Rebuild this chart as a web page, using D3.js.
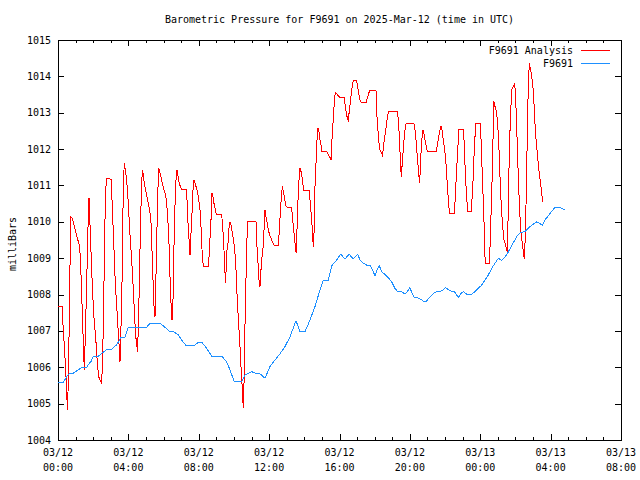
<!DOCTYPE html>
<html><head><meta charset="utf-8">
<script src="https://cdn.jsdelivr.net/npm/d3@7"></script>
<style>
body{margin:0;background:#fff;}
svg{display:block;}
text{font-family:"DejaVu Sans Mono","Liberation Mono",monospace;font-size:10px;fill:#000;}
</style></head><body>
<svg id="chart" width="640" height="480"></svg>
<script>
const title = "Barometric Pressure for F9691 on 2025-Mar-12 (time in UTC)";
const yAxisLabel = "milliBars";
const seriesNames = ["F9691 Analysis", "F9691"];
const seriesColors = ["#ff0000", "#1e90ff"];
const startTime = Date.UTC(2025, 2, 12, 0, 0);
const xTickHours = [0, 4, 8, 12, 16, 20, 24, 28, 32];
const yTickValues = [1004, 1005, 1006, 1007, 1008, 1009, 1010, 1011, 1012, 1013, 1014, 1015];

// F9691 Analysis (hours after 2025-03-12 00:00 UTC)
const redHours = [0,0.246,0.26,0.303,0.36,0.398,0.455,0.474,0.49,0.53,0.587,0.625,0.663,0.701,0.739,0.815,0.871,0.928,1.004,1.08,1.156,1.231,1.288,1.345,1.402,1.459,1.497,1.535,1.573,1.629,1.667,1.724,1.762,1.8,1.838,1.895,1.951,2.008,2.065,2.141,2.198,2.255,2.311,2.387,2.482,2.539,2.596,2.633,2.69,2.747,3.012,3.05,3.107,3.164,3.221,3.278,3.334,3.391,3.467,3.524,3.562,3.619,3.675,3.713,3.77,3.827,3.884,3.96,4.035,4.111,4.187,4.244,4.301,4.358,4.414,4.471,4.509,4.566,4.623,4.68,4.737,4.793,4.85,4.907,4.983,5.059,5.134,5.21,5.286,5.362,5.419,5.475,5.513,5.551,5.608,5.665,5.722,5.779,5.854,5.93,6.006,6.082,6.157,6.233,6.309,6.366,6.423,6.48,6.536,6.574,6.631,6.688,6.764,6.802,6.877,6.953,7.029,7.313,7.351,7.408,7.465,7.503,7.559,7.616,7.673,7.73,7.787,7.88,7.976,8.071,8.128,8.204,8.261,8.545,8.583,8.64,8.696,8.753,8.81,8.848,8.924,9.0,9.303,9.34,9.397,9.454,9.492,9.53,9.568,9.606,9.663,9.72,9.776,9.833,9.909,9.985,10.06,10.117,10.174,10.231,10.288,10.345,10.402,10.458,10.496,10.534,10.572,10.61,10.667,10.724,10.781,11.254,11.311,11.368,11.425,11.482,11.538,11.595,11.652,11.709,11.766,11.823,11.879,11.955,12.031,12.107,12.183,12.278,12.524,12.58,12.637,12.694,12.751,12.808,12.865,12.94,13.016,13.281,13.338,13.395,13.452,13.509,13.547,13.585,13.642,13.698,13.755,13.85,13.907,13.982,14.285,14.323,14.38,14.437,14.475,14.513,14.551,14.608,14.664,14.721,14.778,14.835,14.892,14.949,15.005,15.271,15.365,15.46,15.517,15.555,15.593,15.65,15.707,15.763,15.839,15.934,16.028,16.275,16.332,16.389,16.445,16.502,16.559,16.616,16.673,16.73,16.787,16.976,17.033,17.09,17.165,17.241,17.506,17.582,17.658,17.734,18.075,18.113,18.17,18.226,18.283,18.359,18.435,18.491,18.548,18.605,18.662,18.719,18.776,19.287,19.344,19.401,19.439,19.477,19.515,19.553,19.609,19.666,19.723,19.78,20.235,20.292,20.348,20.405,20.462,20.519,20.557,20.632,20.689,20.745,20.802,20.859,20.916,20.992,21.484,21.56,21.636,21.712,21.769,21.825,21.901,21.977,22.034,22.091,22.148,22.204,22.261,22.545,22.583,22.64,22.697,22.754,22.792,23.038,23.076,23.114,23.171,23.227,23.284,23.493,23.53,23.587,23.644,23.701,23.758,23.985,24.042,24.099,24.156,24.213,24.25,24.288,24.515,24.553,24.61,24.667,24.724,24.781,24.838,24.895,24.951,25.008,25.065,25.122,25.179,25.236,25.293,25.349,25.463,25.539,25.596,25.652,25.728,25.785,25.88,25.956,26.012,26.069,26.126,26.183,26.24,26.297,26.353,26.41,26.448,26.505,26.562,26.619,26.676,26.733,26.789,26.846,26.903,26.96,27.017,27.074,27.13,27.187,27.244,27.301,27.358,27.415,27.471,27.528,27.566];
const redValues = [1007.67,1007.67,1007.35,1007.02,1006.57,1006.25,1005.74,1005.12,1005.45,1004.83,1005.56,1006.8,1008.13,1009.45,1010.14,1010.1,1010.0,1009.87,1009.73,1009.59,1009.45,1009.32,1008.81,1008.03,1007.21,1006.38,1005.93,1006.57,1007.35,1008.13,1009.23,1010.14,1010.65,1010.28,1009.59,1008.95,1008.22,1007.67,1007.21,1006.84,1006.38,1006.02,1005.74,1005.65,1005.56,1006.29,1007.67,1009.04,1010.51,1011.2,1011.17,1010.83,1010.14,1009.5,1008.72,1008.13,1007.71,1007.25,1006.66,1006.15,1006.84,1007.67,1009.59,1011.06,1011.61,1011.42,1011.24,1010.79,1010.14,1009.5,1008.95,1008.49,1007.94,1007.39,1006.84,1006.7,1006.43,1007.02,1008.31,1009.68,1010.79,1011.42,1011.29,1011.06,1010.88,1010.69,1010.51,1010.33,1009.96,1008.95,1008.13,1007.48,1007.39,1008.13,1009.41,1010.69,1011.47,1011.38,1011.24,1011.06,1010.92,1010.79,1010.6,1010.19,1009.41,1008.49,1007.76,1007.3,1007.85,1008.95,1010.14,1011.06,1011.42,1011.33,1011.1,1010.97,1010.88,1010.88,1010.33,1009.78,1009.41,1009.09,1009.68,1010.24,1010.88,1011.15,1011.06,1010.92,1010.69,1010.33,1009.87,1009.04,1008.77,1008.77,1009.04,1009.55,1010.05,1010.79,1010.69,1010.55,1010.37,1010.19,1010.19,1010.0,1009.59,1009.04,1008.58,1008.33,1008.86,1009.23,1009.41,1009.82,1010.0,1009.91,1009.68,1009.5,1009.13,1008.68,1008.03,1007.48,1007.02,1006.57,1006.02,1005.56,1005.15,1004.87,1005.56,1006.75,1008.03,1009.32,1010.0,1010.0,1009.32,1008.86,1008.4,1008.22,1008.68,1009.04,1009.27,1009.78,1010.33,1010.14,1010.0,1009.78,1009.64,1009.55,1009.45,1009.36,1009.36,1009.78,1010.24,1010.69,1010.97,1010.83,1010.69,1010.46,1010.4,1010.4,1010.05,1009.78,1009.5,1009.23,1009.13,1009.78,1010.6,1011.15,1011.47,1011.33,1011.06,1010.85,1010.85,1010.6,1010.28,1009.91,1009.59,1009.3,1009.68,1010.97,1011.61,1012.25,1012.57,1012.48,1012.25,1012.11,1011.93,1011.93,1011.84,1011.77,1011.7,1012.16,1012.39,1012.85,1013.31,1013.56,1013.52,1013.46,1013.42,1013.42,1013.17,1012.99,1012.85,1012.76,1013.08,1013.26,1013.54,1013.76,1013.88,1013.88,1013.72,1013.54,1013.35,1013.28,1013.28,1013.4,1013.54,1013.61,1013.61,1013.03,1012.62,1012.25,1011.99,1011.93,1011.84,1011.98,1012.3,1012.43,1012.66,1012.85,1013.03,1013.03,1012.8,1012.34,1011.93,1011.52,1011.24,1011.52,1011.89,1012.25,1012.53,1012.69,1012.7,1012.53,1012.25,1011.89,1011.56,1011.24,1011.06,1011.89,1012.3,1012.53,1012.43,1012.25,1012.11,1011.93,1011.93,1012.11,1012.34,1012.53,1012.62,1012.53,1012.25,1011.98,1011.75,1011.29,1010.88,1010.46,1010.24,1010.24,1010.79,1011.24,1011.79,1012.25,1012.54,1012.54,1012.25,1011.79,1011.15,1010.69,1010.28,1010.28,1010.6,1011.1,1011.79,1012.34,1012.71,1012.71,1012.3,1011.52,1010.79,1010.0,1009.23,1008.86,1008.86,1009.27,1010.14,1011.06,1012.25,1013.31,1013.17,1013.08,1012.9,1012.53,1011.98,1011.24,1010.6,1010.14,1009.78,1009.5,1009.32,1009.18,1010.42,1011.98,1012.99,1013.63,1013.72,1013.81,1013.44,1012.62,1011.79,1010.97,1010.33,1009.78,1009.5,1009.41,1009.13,1008.99,1009.59,1010.88,1012.43,1013.81,1014.36,1014.22,1014.08,1013.86,1013.58,1013.08,1012.53,1012.16,1011.89,1011.56,1011.33,1011.1,1010.88,1010.65,1010.55];

// F9691 observations
const blueHours = [0,0.303,0.587,0.871,1.156,1.345,1.629,1.724,1.875,2.008,2.255,2.482,2.766,3.05,3.334,3.581,3.808,3.903,3.998,5.04,5.229,5.798,6.082,6.366,6.555,6.839,7.029,7.256,7.787,7.976,8.166,8.45,8.734,9.303,9.587,9.776,10.023,10.44,10.629,11.008,11.292,11.481,11.766,12.05,12.334,12.618,12.902,13.187,13.528,13.755,14.04,14.323,14.608,14.892,15.081,15.365,15.555,15.839,16.066,16.313,16.54,16.786,17.033,17.165,17.355,17.544,17.734,17.866,18.018,18.17,18.264,18.397,18.586,18.776,18.965,19.154,19.306,19.533,19.723,19.874,20.007,20.14,20.253,20.519,20.765,20.955,21.144,21.333,21.523,21.807,22.034,22.28,22.527,22.754,22.905,23.038,23.228,23.512,23.701,23.891,24.08,24.27,24.46,24.649,24.8,25.027,25.217,25.5,26.069,26.259,26.543,26.827,27.206,27.528,27.68,27.964,28.248,28.532,28.779];
const blueValues = [1005.59,1005.59,1005.81,1005.84,1005.93,1006.0,1006.0,1006.07,1006.16,1006.29,1006.29,1006.38,1006.49,1006.49,1006.62,1006.82,1006.82,1006.97,1007.1,1007.1,1007.21,1007.21,1007.1,1006.98,1006.98,1006.89,1006.75,1006.61,1006.61,1006.69,1006.69,1006.52,1006.31,1006.31,1006.15,1005.93,1005.6,1005.6,1005.79,1005.88,1005.82,1005.82,1005.7,1006.02,1006.2,1006.37,1006.57,1006.84,1007.28,1006.98,1006.98,1007.3,1007.67,1008.13,1008.4,1008.4,1008.79,1008.95,1009.11,1008.98,1009.11,1008.98,1009.11,1008.95,1008.86,1008.81,1008.8,1008.68,1008.52,1008.72,1008.79,1008.63,1008.55,1008.46,1008.35,1008.17,1008.08,1008.08,1008.01,1008.1,1008.19,1008.01,1007.92,1007.9,1007.82,1007.82,1007.94,1008.03,1008.08,1008.1,1008.19,1008.1,1008.08,1007.92,1008.03,1008.08,1008.01,1008.01,1008.08,1008.17,1008.26,1008.4,1008.54,1008.72,1008.83,1009.0,1008.93,1009.09,1009.59,1009.7,1009.73,1009.87,1010.0,1009.91,1010.05,1010.23,1010.4,1010.4,1010.33];

const W = 640, H = 480;
const m = {left: 58, right: 19, top: 40, bottom: 40};
const hr = h => new Date(startTime + h * 3600000);

const svg = d3.select("#chart");
const x = d3.scaleUtc().domain([hr(0), hr(32)]).range([m.left, W - m.right]);
const y = d3.scaleLinear().domain([1004, 1015]).range([H - m.bottom, m.top]);

const majorX = xTickHours.map(hr);
const minorX = x.ticks(d3.utcHour.every(1));

const g = svg.append("g").attr("shape-rendering", "crispEdges");

// minor ticks (bottom + top)
g.append("g").attr("transform", `translate(0,${y(1004)})`)
  .call(d3.axisBottom(x).tickValues(minorX).tickSize(-3).tickFormat(""))
  .call(a => a.select(".domain").remove());
g.append("g").attr("transform", `translate(0,${y(1015)})`)
  .call(d3.axisTop(x).tickValues(minorX).tickSize(-3).tickFormat(""))
  .call(a => a.select(".domain").remove());
// major ticks
g.append("g").attr("transform", `translate(0,${y(1004)})`)
  .call(d3.axisBottom(x).tickValues(majorX).tickSize(-6).tickFormat(""))
  .call(a => a.select(".domain").remove());
g.append("g").attr("transform", `translate(0,${y(1015)})`)
  .call(d3.axisTop(x).tickValues(majorX).tickSize(-6).tickFormat(""))
  .call(a => a.select(".domain").remove());
g.append("g").attr("transform", `translate(${x.range()[0]},0)`)
  .call(d3.axisLeft(y).tickValues(yTickValues).tickSize(-6).tickFormat(""))
  .call(a => a.select(".domain").remove());
g.append("g").attr("transform", `translate(${x.range()[1]},0)`)
  .call(d3.axisRight(y).tickValues(yTickValues).tickSize(-6).tickFormat(""))
  .call(a => a.select(".domain").remove());

// border
g.append("rect")
  .attr("x", x.range()[0]).attr("y", y(1015))
  .attr("width", x.range()[1] - x.range()[0]).attr("height", y(1004) - y(1015))
  .attr("fill", "none").attr("stroke", "#000");

// x labels
const fDate = d3.utcFormat("%m/%d"), fTime = d3.utcFormat("%H:%M");
const xl = svg.append("g").selectAll("text").data(majorX).join("text")
  .attr("x", d => x(d)).attr("text-anchor", "middle");
xl.append("tspan").attr("x", d => x(d)).attr("y", 456).text(d => fDate(d));
xl.append("tspan").attr("x", d => x(d)).attr("y", 471).text(d => fTime(d));

// y labels
svg.append("g").selectAll("text").data(yTickValues).join("text")
  .attr("x", 51).attr("y", d => y(d)).attr("dy", "0.35em")
  .attr("text-anchor", "end").text(d => d);

// title
svg.append("text").attr("x", (x.range()[0] + x.range()[1]) / 2).attr("y", 23)
  .attr("text-anchor", "middle").text(title);
// y axis label
svg.append("text").attr("transform", "translate(12,244) rotate(-90)")
  .attr("text-anchor", "middle").attr("dy", "0.35em").text(yAxisLabel);

// lines
const line = d3.line().x(d => x(hr(d[0]))).y(d => y(d[1]));
const redData = d3.zip(redHours, redValues);
const blueData = d3.zip(blueHours, blueValues);
const lg = svg.append("g").attr("shape-rendering", "crispEdges");
lg.append("path").datum(redData).attr("d", line)
  .attr("fill", "none").attr("stroke", seriesColors[0]).attr("stroke-width", 1);
lg.append("path").datum(blueData).attr("d", line)
  .attr("fill", "none").attr("stroke", seriesColors[1]).attr("stroke-width", 1);

// legend
const legY = [50, 63];
seriesNames.forEach((n, i) => {
  svg.append("text").attr("x", 573).attr("y", legY[i]).attr("dy", "0.35em")
    .attr("text-anchor", "end").text(n);
  svg.append("line").attr("x1", 581).attr("x2", 610).attr("y1", legY[i] + 0.5).attr("y2", legY[i] + 0.5)
    .attr("stroke", seriesColors[i]).attr("shape-rendering", "crispEdges");
});
</script>
</body></html>
